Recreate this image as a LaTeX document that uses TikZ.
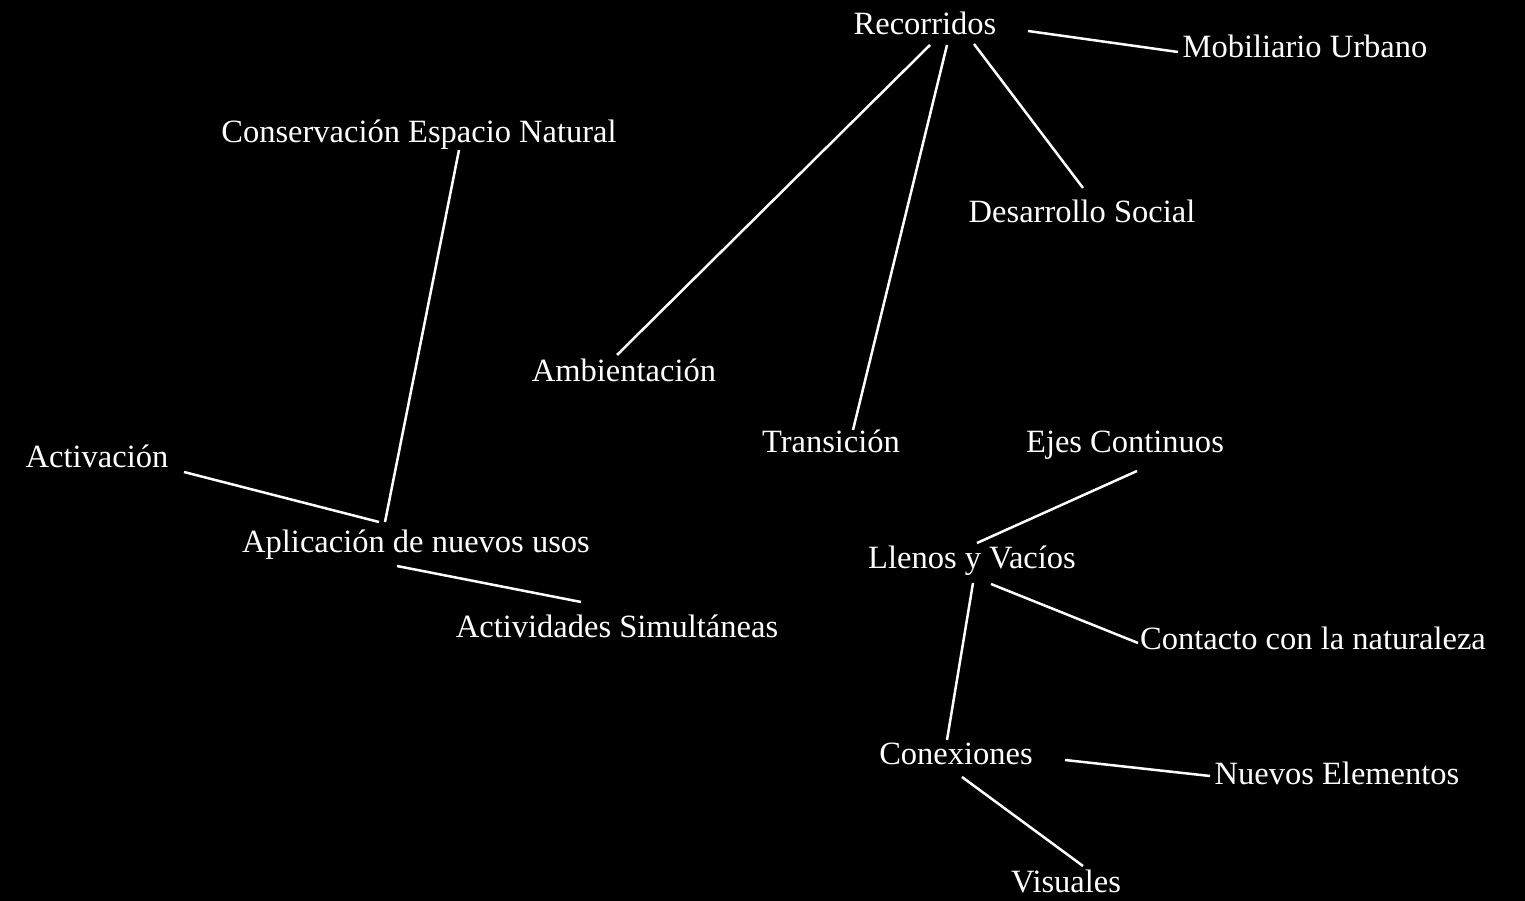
\documentclass[tikz,border=0pt]{standalone}
\usepackage{fontspec}
\setmainfont{Liberation Serif}
\usetikzlibrary{positioning}

\begin{document}
\begin{tikzpicture}[
			x=0.02cm, y=-0.02cm,
			lbl/.style={text=white, inner sep=0pt, font=\fontsize{18.5}{22}\selectfont},
			link/.style={draw=white, line width=0.05cm}
			]

			\fill[black] (0,0) rectangle (1525,901);

			\node[lbl] (rec) at (925,23) {Recorridos};
			\node[lbl] (mob) at (1305,46) {Mobiliario Urbano};
			\node[lbl] (cons) at (419,135) {Conservación Espacio Natural};
			\node[lbl] (des) at (1082,211) {Desarrollo Social};
			\node[lbl] (amb) at (624,370) {Ambientación};
			\node[lbl] (tra) at (831,441) {Transición};
			\node[lbl] (eje) at (1125,445) {Ejes Continuos};
			\node[lbl] (act) at (97,456) {Activación};
			\node[lbl] (apl) at (416,545) {Aplicación de nuevos usos};
			\node[lbl] (lle) at (972,561) {Llenos y Vacíos};
			\node[lbl] (sim) at (617,626) {Actividades Simultáneas};
			\node[lbl] (nat) at (1313,638) {Contacto con la naturaleza};
			\node[lbl] (cnx) at (956,754) {Conexiones};
			\node[lbl] (nue) at (1337,773) {Nuevos Elementos};
			\node[lbl] (vis) at (1066,881) {Visuales};

			% links: node / offset / node / offset
			\foreach \a/\ax/\ay/\b/\bx/\by in {rec/103/8/mob/-127/6, rec/5/22/amb/-7/-15,
				rec/22/22/tra/22/-11, rec/49/21/des/1/-23, cons/40/15/apl/-31/-23,
				act/87/16/apl/-37/-23, apl/-19/21/sim/-36/-24, eje/12/26/lle/5/-18,
				lle/19/23/nat/-175/5, lle/1/22/cnx/-9/-14, cnx/109/6/nue/-127/3,
				cnx/6/23/vis/17/-15} {
				\draw[link] ([shift={(\ax,\ay)}]\a.center) -- ([shift={(\bx,\by)}]\b.center);
			}

		\end{tikzpicture}
\end{document}
